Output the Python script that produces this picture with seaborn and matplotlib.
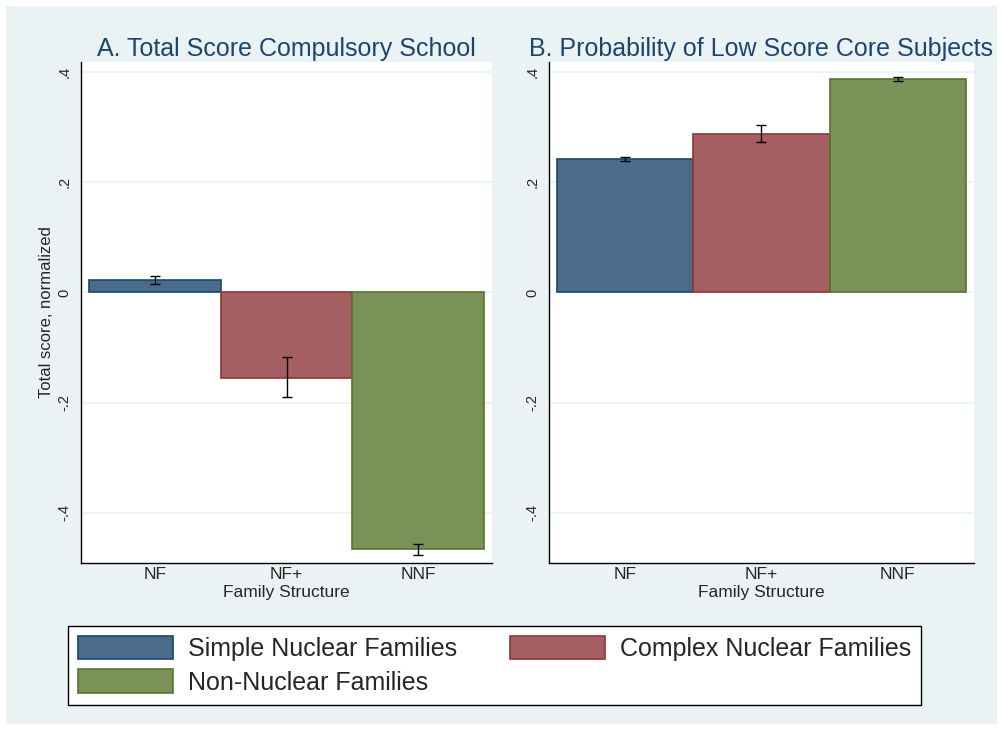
import matplotlib
matplotlib.use("Agg")
import matplotlib.pyplot as plt
from matplotlib.patches import Patch, Rectangle
import pandas as pd
import seaborn as sns

# data
categories = ["NF", "NF+", "NNF"]
legend_names = ["Simple Nuclear Families", "Complex Nuclear Families", "Non-Nuclear Families"]

score_mean = [0.022, -0.155, -0.465]
score_lo = [0.015, -0.190, -0.476]
score_hi = [0.030, -0.118, -0.457]

lowprob_mean = [0.242, 0.287, 0.387]
lowprob_lo = [0.238, 0.273, 0.384]
lowprob_hi = [0.245, 0.304, 0.390]

yticks = [-0.4, -0.2, 0, 0.2, 0.4]
ytick_labels = ["-.4", "-.2", "0", ".2", ".4"]

fill_colors = ["#4a6b8a", "#a55e61", "#7a9157"]
edge_colors = ["#1a476f", "#90353b", "#55752f"]
bg = "#eaf2f3"

sns.set_style("white")
plt.rcParams["font.family"] = ["Liberation Sans", "DejaVu Sans"]

fig = plt.figure(figsize=(10.03, 7.30), dpi=100)
fig.add_artist(Rectangle((6 / 1003, 6 / 730), 991 / 1003, 718 / 730,
                         transform=fig.transFigure, facecolor=bg,
                         edgecolor="none", zorder=-10))

axA = fig.add_axes([81 / 1003, 1 - 563 / 730, 411 / 1003, 501 / 730])
axB = fig.add_axes([549 / 1003, 1 - 563 / 730, 425 / 1003, 501 / 730])

panels = [
    (axA, score_mean, score_lo, score_hi, "A. Total Score Compulsory School", "Total score, normalized"),
    (axB, lowprob_mean, lowprob_lo, lowprob_hi, "B. Probability of Low Score Core Subjects", ""),
]

for ax, mean, lo, hi, title, ylabel in panels:
    df = pd.DataFrame({"family": categories, "value": mean})
    sns.barplot(data=df, x="family", y="value", hue="family",
                palette=fill_colors, saturation=1, width=1.0, errorbar=None,
                legend=False, ax=ax, zorder=2)
    for bar, ec in zip(ax.patches, edge_colors):
        bar.set_edgecolor(ec)
        bar.set_linewidth(1.2)
    yerr = [[m - l for m, l in zip(mean, lo)], [h - m for m, h in zip(mean, hi)]]
    ax.errorbar(range(len(categories)), mean, yerr=yerr, fmt="none",
                ecolor="black", elinewidth=1, capsize=3.5, capthick=1, zorder=3)

    ax.set_xlim(-0.56, 2.56)
    ax.set_ylim(-0.491, 0.418)
    ax.set_yticks(yticks)
    ax.set_yticklabels(ytick_labels, rotation=90, va="center", fontsize=10.5)
    ax.yaxis.grid(True, color=bg, linewidth=1.2, zorder=0)
    ax.set_axisbelow(True)
    ax.tick_params(axis="y", length=4, width=0.8, color="black", pad=3)
    ax.tick_params(axis="x", length=0, labelsize=12.5, pad=3)
    ax.set_xlabel("Family Structure", fontsize=12.5, labelpad=2)
    ax.set_ylabel(ylabel, fontsize=12, labelpad=2)
    ax.set_title(title, fontsize=18, color="#1a476f", pad=4)
    for side in ["top", "right"]:
        ax.spines[side].set_visible(False)
    for side in ["left", "bottom"]:
        ax.spines[side].set_color("black")
        ax.spines[side].set_linewidth(1)

# matplotlib fills legend columns first; reorder so rows read like the original
order = [0, 2, 1]
handles = [Patch(facecolor=fill_colors[i], edgecolor=edge_colors[i], linewidth=1.2) for i in order]
labels = [legend_names[i] for i in order]
leg = fig.legend(handles, labels, ncol=2, loc="upper left",
                 bbox_to_anchor=(68 / 1003, 1 - 626 / 730), borderaxespad=0,
                 fontsize=18, handlelength=3.8, handleheight=1.05,
                 handletextpad=0.6, columnspacing=2.1, labelspacing=0.33,
                 borderpad=0.4, frameon=True, fancybox=False, framealpha=1)
leg.get_frame().set_edgecolor("black")
leg.get_frame().set_linewidth(1)

fig.savefig("out.png", dpi=100, facecolor="white")
